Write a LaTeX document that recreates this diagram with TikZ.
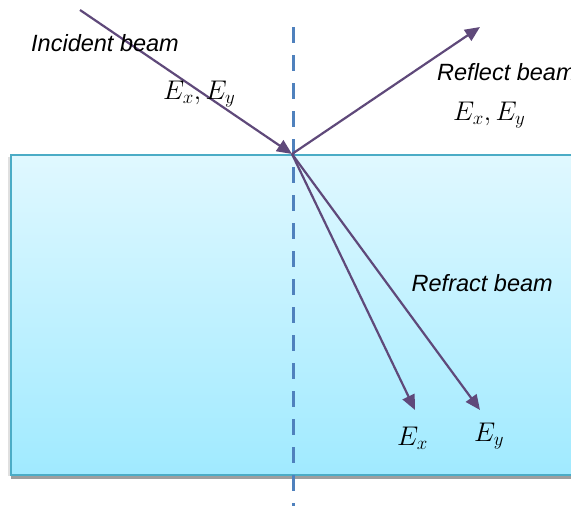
\RequirePackage{fix-cm}
\documentclass[tikz,border=0pt]{standalone}
\usepackage{fontspec}
\newfontfamily\labfont{Liberation Sans}
\usetikzlibrary{arrows.meta}
\definecolor{beam}{HTML}{5F497A}
\definecolor{axisblue}{HTML}{4F81BD}
\definecolor{slabedge}{HTML}{4BACC6}
\definecolor{slabtop}{HTML}{E0F8FF}
\definecolor{slabbot}{HTML}{A0EAFF}
\tikzset{
  beamline/.style={draw=beam,line width=2.2pt,-{Triangle[length=15pt,width=13pt]}},
  lab/.style={inner sep=0pt,anchor=base west,font=\labfont\itshape\fontsize{23.5}{28}\selectfont},
  mlab/.style={inner sep=0pt,anchor=base west,font=\fontsize{27}{31}\selectfont},
}
\begin{document}
\begin{tikzpicture}[x=1pt,y=-1pt]
\useasboundingbox (0,0) rectangle (571,506);
\clip (0,0) rectangle (571,506);
% slab with shadow
\fill[black!38] (11,160) rectangle (590,478.5);
\fill[black!12] (8.3,157) rectangle (10,476);
\shade[top color=slabtop,bottom color=slabbot,draw=slabedge,line width=2pt] (11,155) rectangle (590,474.5);
% normal
\coordinate (ntop) at (293.5,27);
\coordinate (nbot) at (293.5,512);
\draw[axisblue,line width=3.6pt,dash pattern=on 16pt off 12pt] (ntop) -- (nbot);
% beams
\coordinate (O) at (292,154);
\coordinate (inc) at (80,10);
\coordinate (refl) at (480,27);
\coordinate (ex) at (415,410);
\coordinate (ey) at (480,410);
\draw[beamline] (inc) -- (O);
\draw[beamline] (O) -- (refl);
\draw[beamline] (O) -- (ex);
\draw[beamline] (O) -- (ey);
% labels
\node[lab] (tinc) at (31,51) {Incident beam};
\node[lab] (trefl) at (437,80) {Reflect beam};
\node[lab] (trefr) at (411.5,291.5) {Refract beam};
\node[mlab] (minc) at (163,99) {$E_{x}, E_{y}$};
\node[mlab] (mrefl) at (453,120) {$E_{x}, E_{y}$};
\node[mlab] (mex) at (397,445) {$E_{x}$};
\node[mlab] (mey) at (474,441) {$E_{y}$};
\end{tikzpicture}
\end{document}
